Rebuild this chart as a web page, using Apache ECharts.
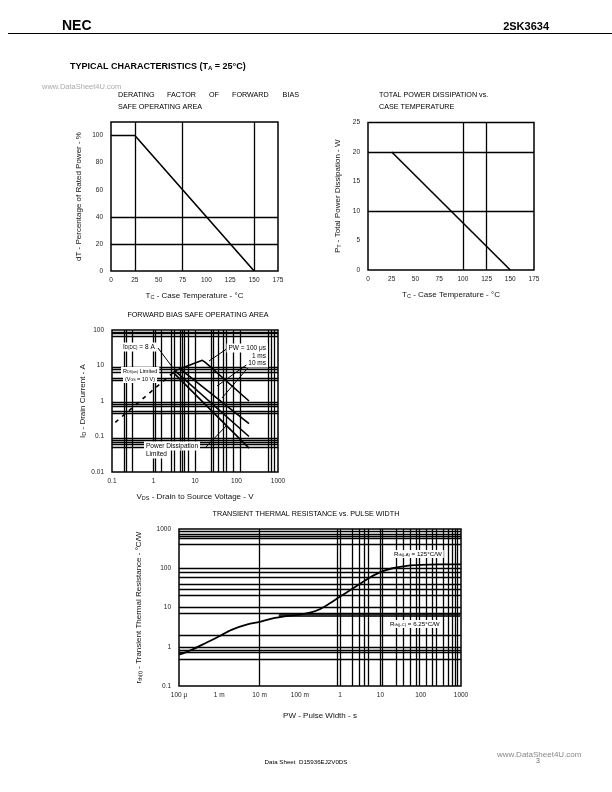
<!DOCTYPE html>
<html><head><meta charset="utf-8">
<script src="https://cdn.jsdelivr.net/npm/echarts@6/dist/echarts.min.js"></script>
<style>html,body{margin:0;padding:0;background:#fff}#c{width:612px;height:792px}</style>
</head><body><div id="c"></div>
<script>
// ---------- DATA ----------
// Chart 1: derating factor
const derTemp = [0, 25, 150];
const derPct = [100, 100, 0];
const derGridX = [25, 75, 150];
const derGridY = [20, 40];
const derXTicks = [0, 25, 50, 75, 100, 125, 150, 175];
const derYTicks = [0, 20, 40, 60, 80, 100];
// Chart 2: total power dissipation
const pdTemp = [25, 150];
const pdWatt = [20, 0];
const pdGridX = [100, 125];
const pdGridY = [10, 20];
const pdYTicks = [0, 5, 10, 15, 20, 25];
// Chart 3: FBSOA
const rdsV = [0.12, 3.4];
const rdsI = [0.25, 7.2];
const pw100V = [3.4, 15, 18, 200];
const pw100I = [7.2, 14, 12, 1.0];
const pw1msV = [4.3, 200];
const pw1msI = [8.2, 0.23];
const pw10msV = [3.2, 200];
const pw10msI = [7.3, 0.1];
const dcV = [2.9, 200];
const dcI = [6.6, 0.047];
const soaGridX = [0.2, 0.22, 0.3, 1, 1.1, 1.5, 2.7, 3.1, 4.4, 4.9, 5.6, 6.8, 10, 24, 28, 36, 47, 57, 82, 120, 570, 690, 830];
const soaGridY = [88, 79, 68, 9.1, 7.8, 6.6, 4.4, 3.8, 0.93, 0.82, 0.72, 0.51, 0.46, 0.088, 0.078, 0.07, 0.056, 0.049];
const soaXLabels = ['0.1', '1', '10', '100', '1000'];
const soaYLabels = ['0.01', '0.1', '1', '10', '100'];
// Chart 4: transient thermal resistance
const pwSec = [1e-4, 2e-4, 5e-4, 1e-3, 2e-3, 5e-3, 1e-2, 2e-2, 5e-2, 0.1, 0.2, 0.3, 0.5, 1, 2, 5, 10, 20, 50, 100, 300, 1000];
const rth = [0.63, 0.82, 1.3, 1.85, 2.7, 3.7, 4.3, 5.2, 6.1, 6.6, 7.6, 8.9, 12, 19, 30, 55, 80, 100, 117, 122, 125, 126];
const rthJcX = [0.03, 1000];
const rthJcY = [6.25, 6.25];
const thGridX = [2e-4, 3e-4, 4e-4, 5e-4, 7e-4, 1e-3, 7e-3, 0.85, 1, 2, 3, 4, 5, 10, 11, 25, 37, 55, 76, 90, 140, 190, 250, 370, 475, 600, 720, 790];
const thGridY = [0.48, 0.72, 0.83, 1, 2, 7, 10, 20, 30, 40, 60, 80, 100, 400, 570, 650, 750, 870];
const thXLabels = ['100 \u03bc', '1 m', '10 m', '100 m', '1', '10', '100', '1000'];
const thYLabels = ['0.1', '1', '10', '100', '1000'];

// ---------- CHART ----------
const FF = '"Liberation Sans", Arial, sans-serif';
const chart = echarts.init(document.getElementById('c'), null, {renderer: 'canvas'});
const zip = (a, b) => a.map((v, i) => [v, b[i]]);
const lbl = {fontFamily: FF, fontSize: 6.5, color: '#222'};
const nameRich = {
  n: {fontFamily: FF, fontSize: 8, color: '#111'},
  s: {fontFamily: FF, fontSize: 5.5, color: '#111', padding: [3, 0, 0, 0]}
};
function logLabel(arr, base) {
  return v => { const k = Math.round(Math.log10(v)) - base; return arr[k] !== undefined ? arr[k] : ''; };
}
function gridLines(ax, xs, ys) {
  return {
    type: 'line', xAxisIndex: ax, yAxisIndex: ax, data: [], silent: true,
    markLine: {
      silent: true, symbol: ['none', 'none'], animation: false, label: {show: false},
      lineStyle: {color: '#000', width: 1.3, type: 'solid'},
      data: xs.map(v => ({xAxis: v})).concat(ys.map(v => ({yAxis: v})))
    }
  };
}
function dataLine(ax, d, extra) {
  return Object.assign({
    type: 'line', xAxisIndex: ax, yAxisIndex: ax, data: d, symbol: 'none', silent: true,
    lineStyle: {color: '#000', width: 1.6}, animation: false
  }, extra || {});
}
const gridBox = {show: true, borderColor: '#000', borderWidth: 1.5, backgroundColor: 'transparent'};
const baseAxis = {
  axisLine: {show: false}, axisTick: {show: false}, splitLine: {show: false}
};

const option = {
  animation: false,
  grid: [
    Object.assign({left: 111, top: 122, width: 167, height: 149}, gridBox),
    Object.assign({left: 368, top: 122.5, width: 166, height: 147.5}, gridBox),
    Object.assign({left: 112, top: 330, width: 166, height: 142}, gridBox),
    Object.assign({left: 179, top: 529, width: 282, height: 157}, gridBox)
  ],
  xAxis: [
    Object.assign({type: 'value', gridIndex: 0, min: 0, max: 175, interval: 25,
      axisLabel: Object.assign({margin: 6}, lbl),
      name: '{n|T}{s|C}{n| - Case Temperature - \u00b0C}', nameLocation: 'middle', nameGap: 20,
      nameTextStyle: {rich: nameRich}}, baseAxis),
    Object.assign({type: 'value', gridIndex: 1, min: 0, max: 175, interval: 25,
      axisLabel: Object.assign({margin: 6}, lbl),
      name: '{n|T}{s|C}{n| - Case Temperature - \u00b0C}', nameLocation: 'middle', nameGap: 20,
      nameTextStyle: {rich: nameRich}}, baseAxis),
    Object.assign({type: 'log', gridIndex: 2, min: 0.1, max: 1000, splitNumber: 4,
      axisLabel: Object.assign({margin: 6, formatter: logLabel(soaXLabels, -1)}, lbl),
      name: '{n|V}{s|DS}{n| - Drain to Source Voltage - V}', nameLocation: 'middle', nameGap: 20,
      nameTextStyle: {rich: nameRich}}, baseAxis),
    Object.assign({type: 'log', gridIndex: 3, min: 1e-4, max: 1000, splitNumber: 7,
      axisLabel: Object.assign({margin: 6, formatter: logLabel(thXLabels, -4)}, lbl),
      name: '{n|PW - Pulse Width - s}', nameLocation: 'middle', nameGap: 26,
      nameTextStyle: {rich: nameRich}}, baseAxis)
  ],
  yAxis: [
    Object.assign({type: 'value', gridIndex: 0, min: 0, max: 110, interval: 20,
      axisLabel: Object.assign({margin: 8, showMaxLabel: false,
        formatter: v => derYTicks.indexOf(v) >= 0 ? String(v) : ''}, lbl),
      name: '{n|dT - Percentage of Rated Power - %}', nameLocation: 'middle', nameGap: 28,
      nameTextStyle: {rich: nameRich}}, baseAxis),
    Object.assign({type: 'value', gridIndex: 1, min: 0, max: 25, interval: 5,
      axisLabel: Object.assign({margin: 8, formatter: v => pdYTicks.indexOf(v) >= 0 ? String(v) : ''}, lbl),
      name: '{n|P}{s|T}{n| - Total Power Dissipation - W}', nameLocation: 'middle', nameGap: 26,
      nameTextStyle: {rich: nameRich}}, baseAxis),
    Object.assign({type: 'log', gridIndex: 2, min: 0.01, max: 100, splitNumber: 4,
      axisLabel: Object.assign({margin: 8, formatter: logLabel(soaYLabels, -2)}, lbl),
      name: '{n|I}{s|D}{n| - Drain Current - A}', nameLocation: 'middle', nameGap: 24,
      nameTextStyle: {rich: nameRich}}, baseAxis),
    Object.assign({type: 'log', gridIndex: 3, min: 0.1, max: 1000, splitNumber: 4,
      axisLabel: Object.assign({margin: 8, formatter: logLabel(thYLabels, -1)}, lbl),
      name: '{n|r}{s|th(t)}{n| - Transient Thermal Resistance - \u00b0C/W}', nameLocation: 'middle', nameGap: 36,
      nameTextStyle: {rich: nameRich}}, baseAxis)
  ],
  series: [
    gridLines(0, derGridX, derGridY),
    dataLine(0, zip(derTemp, derPct)),
    gridLines(1, pdGridX, pdGridY),
    dataLine(1, zip(pdTemp, pdWatt)),
    gridLines(2, soaGridX, soaGridY),
    dataLine(2, zip(rdsV, rdsI), {lineStyle: {color: '#000', width: 1.6, type: [4, 5]}}),
    dataLine(2, zip(pw100V, pw100I)),
    dataLine(2, zip(pw1msV, pw1msI)),
    dataLine(2, zip(pw10msV, pw10msI)),
    dataLine(2, zip(dcV, dcI)),
    gridLines(3, thGridX, thGridY),
    dataLine(3, zip(rthJcX, rthJcY), {lineStyle: {color: '#333', width: 3}}),
    dataLine(3, zip(pwSec, rth), {smooth: 0.3, lineStyle: {color: '#000', width: 1.8}})
  ],
  graphic: []
};

function txt(x, y, text, size, opts) {
  return Object.assign({type: 'text', x: x, y: y, silent: true, z: 100,
    style: Object.assign({text: text, fontFamily: FF, fontSize: size, fill: '#000'}, (opts && opts.style) || {})},
    (opts && opts.el) || {});
}
function boxTxt(x, y, text, size, align) {
  return {type: 'text', x: x, y: y, silent: true, z: 100,
    style: {text: text, fontFamily: FF, fontSize: size, fill: '#000', backgroundColor: '#fff',
      padding: [1, 2, 1, 2], align: align || 'left', verticalAlign: 'middle',
      rich: {n: {fontFamily: FF, fontSize: size, fill: '#000'}, s: {fontFamily: FF, fontSize: size - 2, fill: '#000', padding: [2, 0, 0, 0]}}}};
}
function seg(x1, y1, x2, y2) {
  return {type: 'line', silent: true, z: 100, shape: {x1: x1, y1: y1, x2: x2, y2: y2}, style: {stroke: '#000', lineWidth: 1}};
}
const G = option.graphic;
// header
G.push(txt(62, 19, 'NEC', 14, {style: {fontWeight: 'bold'}}));
G.push(txt(549, 21, '2SK3634', 11, {style: {fontWeight: 'bold', align: 'right'}}));
G.push({type: 'line', silent: true, shape: {x1: 8, y1: 33.5, x2: 612, y2: 33.5}, style: {stroke: '#000', lineWidth: 1}});
G.push({type: 'text', x: 70, y: 62, silent: true,
  style: {text: '{b|TYPICAL CHARACTERISTICS (T}{s|A}{b| = 25\u00b0C)}', fontFamily: FF,
    rich: {b: {fontFamily: FF, fontSize: 9, fontWeight: 'bold', fill: '#000'},
           s: {fontFamily: FF, fontSize: 6, fontWeight: 'bold', fill: '#000', padding: [3, 0, 0, 0]}}}});
G.push(txt(42, 83, 'www.DataSheet4U.com', 7.5, {style: {fill: '#aaa'}}));
// chart titles (justified first line)
G.push(txt(118, 92, 'DERATING', 7.2));
G.push(txt(167, 92, 'FACTOR', 7.2));
G.push(txt(209, 92, 'OF', 7.2));
G.push(txt(232, 92, 'FORWARD', 7.2));
G.push(txt(299, 92, 'BIAS', 7.2, {style: {align: 'right'}}));
G.push(txt(118, 104, 'SAFE OPERATING AREA', 7.2));
G.push(txt(379, 92, 'TOTAL POWER DISSIPATION vs.', 7.2));
G.push(txt(379, 104, 'CASE TEMPERATURE', 7.2));
G.push(txt(198, 312, 'FORWARD BIAS SAFE OPERATING AREA', 7.2, {style: {align: 'center'}}));
G.push(txt(306, 511, 'TRANSIENT THERMAL RESISTANCE vs. PULSE WIDTH', 7.2, {style: {align: 'center'}}));
// FBSOA annotations
G.push(seg(158, 348, 173, 368));
G.push(seg(228, 348, 209, 361));
G.push(seg(256, 358, 217, 386));
G.push(seg(252, 363, 222, 398));
G.push(seg(206, 447, 227, 425));
G.push(boxTxt(121, 347, '{n|I}{s|D(DC)}{n| = 8 A}', 6.5));
G.push(boxTxt(121, 371, '{n|R}{s|DS(on)}{n| Limited}', 5.5));
G.push(boxTxt(123, 379, '{n|(V}{s|GS}{n| = 10 V)}', 5.5));
G.push(boxTxt(268, 348, '{n|PW = 100 \u03bcs}', 6.5, 'right'));
G.push(boxTxt(268, 356, '{n|1 ms}', 6.5, 'right'));
G.push(boxTxt(268, 363, '{n|10 ms}', 6.5, 'right'));
G.push(boxTxt(144, 446, '{n|Power Dissipation}', 6.5));
G.push(boxTxt(144, 454, '{n|Limited}', 6.5));
// thermal annotations
G.push(boxTxt(392, 554, '{n|R}{s|th(j-A)}{n| = 125\u00b0C/W}', 6.2));
G.push(boxTxt(388, 624, '{n|R}{s|th(j-C)}{n| = 6.25\u00b0C/W}', 6.2));
// footer
G.push(txt(306, 759, 'Data Sheet  D15936EJ2V0DS', 6.2, {style: {align: 'center'}}));
G.push(txt(497, 751, 'www.DataSheet4U.com', 8, {style: {fill: '#888'}}));
G.push(txt(536, 758, '3', 7, {style: {fill: '#666'}}));

chart.setOption(option);
</script>
</body></html>
